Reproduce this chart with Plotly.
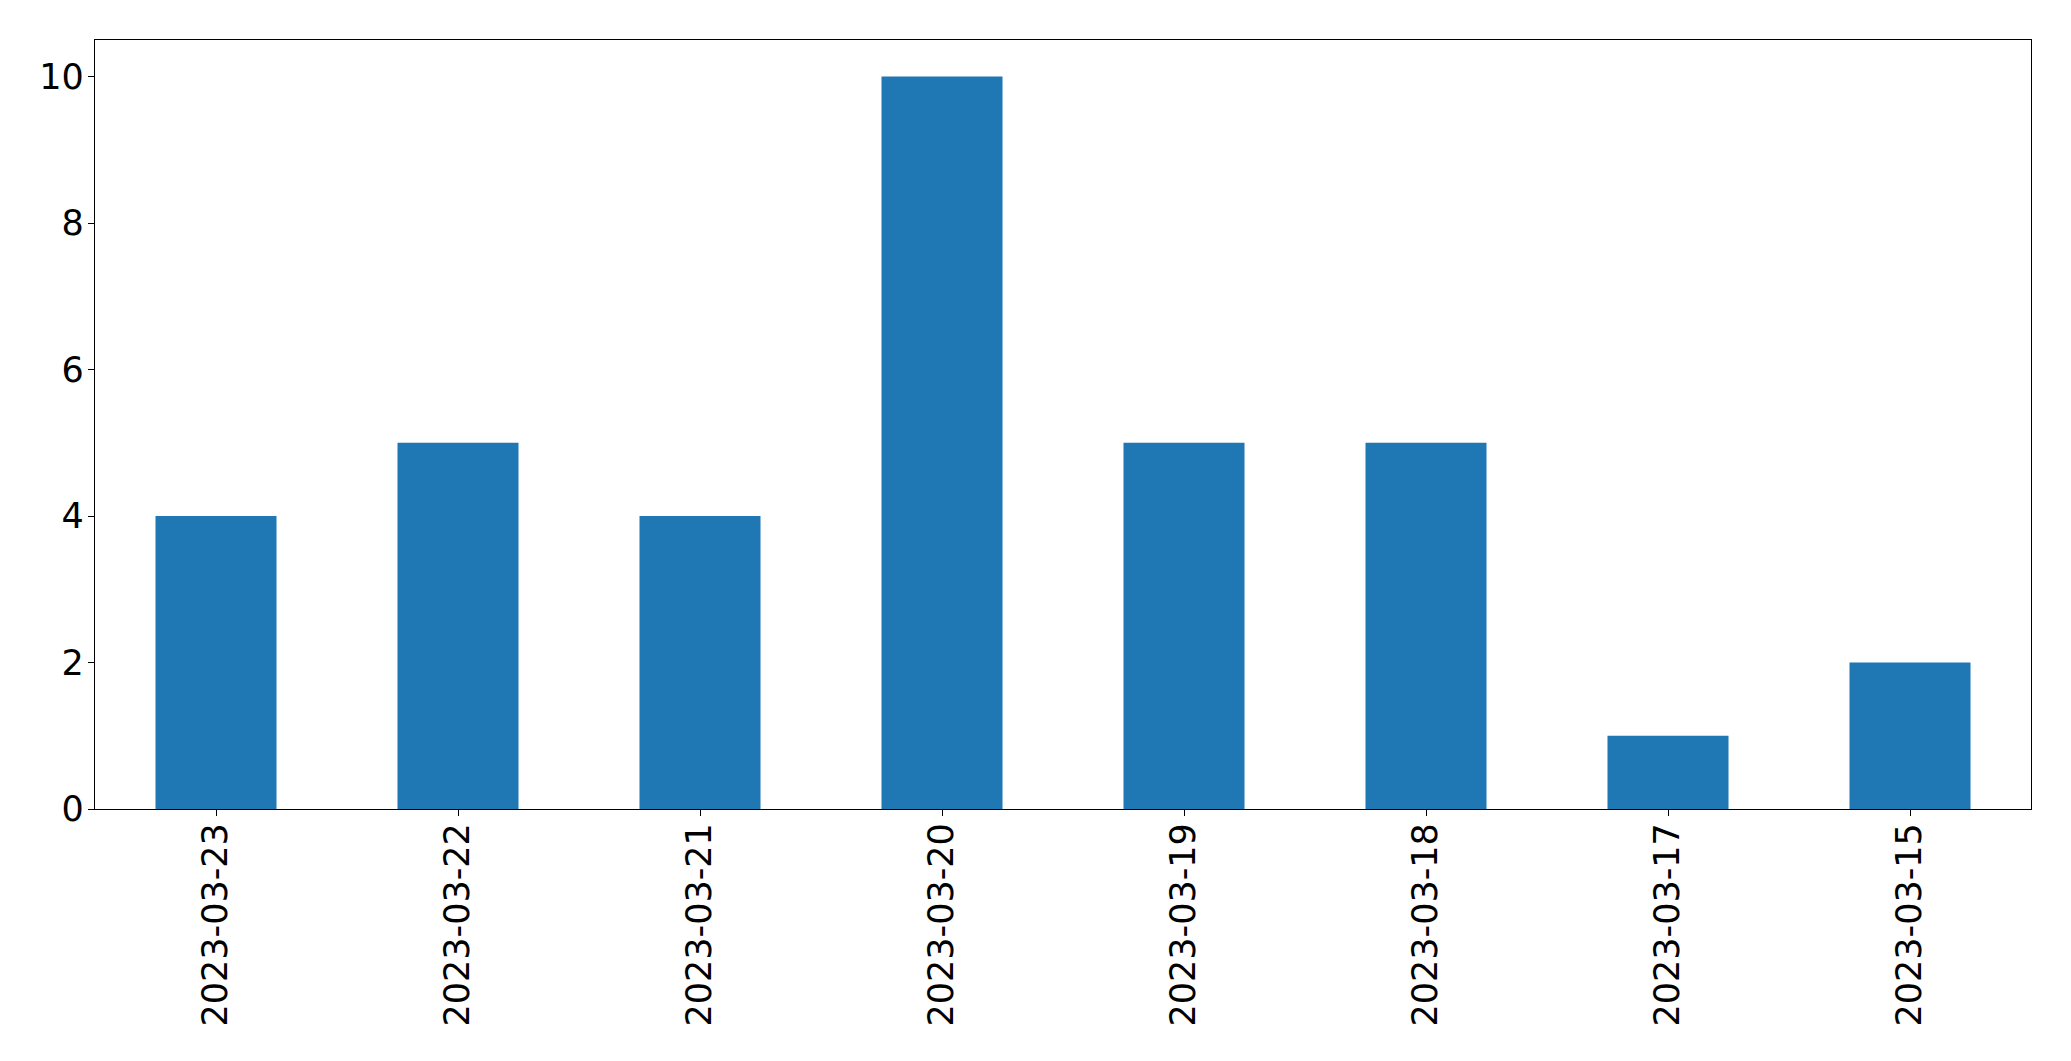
import plotly.graph_objects as go

dates = ["2023-03-23", "2023-03-22", "2023-03-21", "2023-03-20",
         "2023-03-19", "2023-03-18", "2023-03-17", "2023-03-15"]
counts = [4, 5, 4, 10, 5, 5, 1, 2]
y_ticks = [0, 2, 4, 6, 8, 10]

fig = go.Figure(go.Bar(x=dates, y=counts, width=0.5, marker=dict(color="#1f77b4", line=dict(width=0))))

fig.update_layout(
    width=2063, height=1053,
    margin=dict(l=86.5, r=39.5, t=31.5, b=252, pad=0),
    paper_bgcolor="white", plot_bgcolor="white",
    font=dict(family="DejaVu Sans", size=35, color="black"),
    showlegend=False,
)
fig.update_xaxes(
    type="category", range=[-0.5, 7.5], tickangle=-90,
    showline=True, linecolor="black", linewidth=1.3, mirror=True,
    ticks="outside", ticklen=6, tickwidth=1.3, tickcolor="black",
    showgrid=False, zeroline=False, ticklabelstandoff=-7,
)
fig.update_yaxes(
    range=[0, 10.5], tickvals=y_ticks,
    showline=True, linecolor="black", linewidth=1.3, mirror=True,
    ticks="outside", ticklen=6, tickwidth=1.3, tickcolor="black",
    showgrid=False, zeroline=False, ticklabelstandoff=-3,
)
fig.write_html("out.html")
